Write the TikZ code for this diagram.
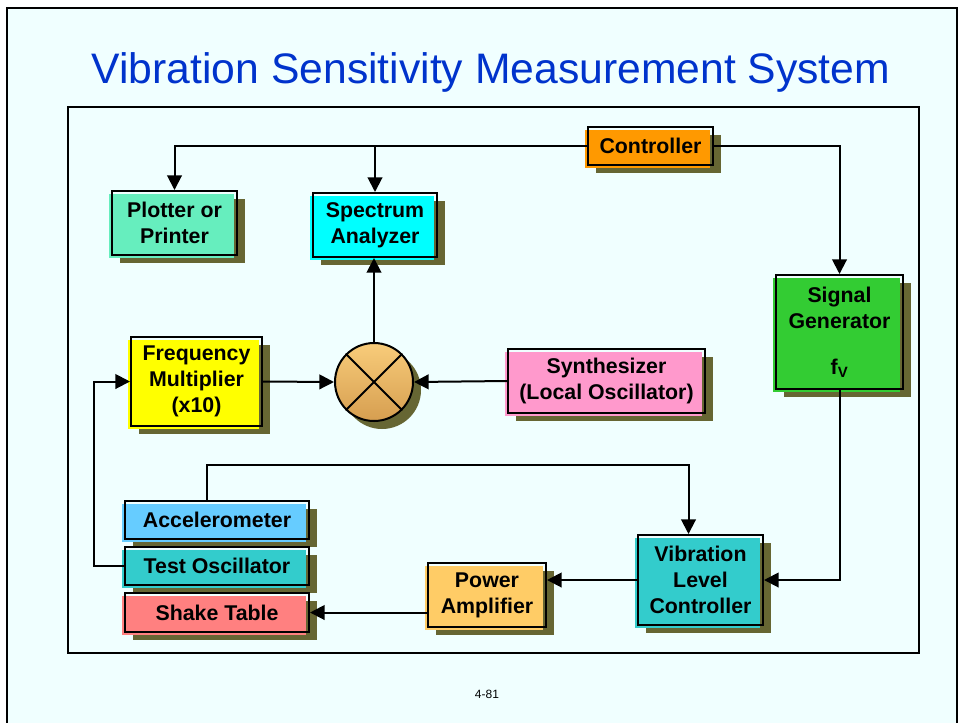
\documentclass[tikz,border=0pt]{standalone}
\usepackage{fontspec}
\setmainfont{Liberation Sans}
\usetikzlibrary{arrows.meta, positioning, shadows, calc}
\definecolor{pagebg}{RGB}{240, 255, 255}
\definecolor{titleblue}{RGB}{0, 51, 204}
\definecolor{shade}{RGB}{102, 102, 51}
\definecolor{ctrlor}{RGB}{255, 153, 0}
\definecolor{plotgr}{RGB}{102, 238, 190}
\definecolor{speccy}{RGB}{0, 255, 255}
\definecolor{multyel}{RGB}{255, 255, 0}
\definecolor{synpink}{RGB}{255, 153, 204}
\definecolor{siggreen}{RGB}{51, 204, 51}
\definecolor{accblue}{RGB}{102, 204, 255}
\definecolor{tealbox}{RGB}{51, 204, 204}
\definecolor{shakered}{RGB}{255, 128, 128}
\definecolor{ampor}{RGB}{255, 204, 102}
\definecolor{mixtop}{RGB}{248, 204, 122}
\definecolor{mixbot}{RGB}{214, 158, 80}

\begin{document}
\begin{tikzpicture}[x=0.75pt, y=-0.75pt,
    blk/.style={draw=black, line width=1.5pt, inner sep=0pt, align=center,
      font=\bfseries\fontsize{16}{19.5}\selectfont,
      drop shadow={shadow xshift=6pt, shadow yshift=-6pt, fill=shade, opacity=1},
      preaction={fill=#1, transform canvas={xshift=-2.25pt, yshift=-2.25pt}}},
    wh/.style 2 args={minimum width=#1*0.75pt, minimum height=#2*0.75pt},
    mixer/.style={circle, draw=black, line width=1.5pt, inner sep=0pt,
      minimum size=58.5pt, top color=mixtop, bottom color=mixbot,
      drop shadow={shadow xshift=6pt, shadow yshift=-6pt, fill=shade, opacity=1}},
    conn/.style={line width=1.5pt},
    arr/.style={conn, -{Triangle[length=11pt, width=11pt]}},
  ]
  \useasboundingbox (0,0) rectangle (959,722);
  \fill[white] (0,0) rectangle (959,722);
  \draw[fill=pagebg, line width=1.5pt] (7,8) rectangle (957,760);
  \draw[line width=1.2pt] (68,107) rectangle (919,653);
  \node[anchor=base, font=\fontsize{32}{38}\selectfont, text=titleblue] (title) at (491,83)
    {Vibration Sensitivity Measurement System};
  \node[anchor=base, font=\fontsize{9}{11}\selectfont] (pageno) at (487,698) {4-81};

  \node[blk=ctrlor, wh={125}{38}] (ctrl) at (650.5,146) {Controller};
  \node[blk=plotgr, wh={125}{64}] (plot) at (174.5,223) {Plotter or\\Printer};
  \node[blk=speccy, wh={124}{64}] (spec) at (375,225) {Spectrum\\Analyzer};
  \node[blk=multyel, wh={131}{89}] (fmult) at (196.5,381.5) {Frequency\\Multiplier\\(x10)};
  \node[mixer] (mix) at (374,382) {};
  \draw[conn] (mix.north west) -- (mix.south east) (mix.north east) -- (mix.south west);
  \node[blk=synpink, wh={197}{64}] (synth) at (606.5,381) {Synthesizer\\(Local Oscillator)};
  \node[blk=siggreen, wh={127}{114}] (sg) at (839.5,332) {Signal\\Generator\\[15pt]f\textsubscript{V}};
  \node[blk=accblue, wh={184}{38}] (acc) at (217,520) {Accelerometer};
  \node[blk=tealbox, wh={184}{38}] (tosc) at (217,566) {Test Oscillator};
  \node[blk=shakered, wh={184}{39}] (shake) at (217,612.5) {Shake Table};
  \node[blk=ampor, wh={118}{64}] (pamp) at (487,595) {Power\\Amplifier};
  \node[blk=tealbox, wh={125}{90}] (vlc) at (700.5,580) {Vibration\\Level\\Controller};

  \draw[arr] (ctrl.west) -| (plot.north);
  \draw[arr] (spec.north |- ctrl.west) -- (spec.north);
  \draw[arr] (ctrl.east) -| (sg.north);
  \draw[arr] (mix.north) -- (mix.north |- spec.south);
  \draw[arr] (fmult.east) -- (mix.west);
  \draw[arr] (synth.west) -- (mix.east);
  \draw[arr] (sg.south) |- (vlc.east);
  \draw[arr] (vlc.west) -- (vlc.west -| pamp.east);
  \draw[arr] (pamp.west |- shake.east) -- (shake.east);
  \draw[arr] ($(acc.north)+(-10,0)$) -- ++(0,-35) -| ($(vlc.north)+(-12,0)$);
  \draw[arr] (tosc.west) -- ++(-30,0) |- (fmult.west);
\end{tikzpicture}
\end{document}
